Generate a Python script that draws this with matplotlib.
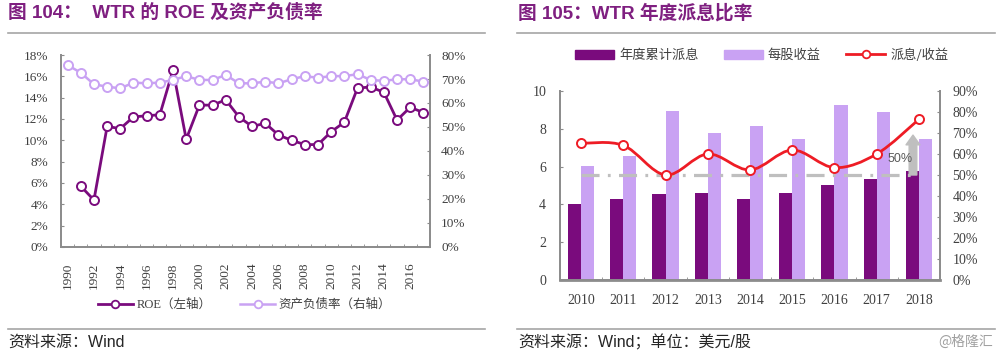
import numpy as np
import matplotlib
matplotlib.use('Agg')
import matplotlib.pyplot as plt
from matplotlib.lines import Line2D
from matplotlib.patches import Patch, PathPatch
from matplotlib.path import Path
from matplotlib.font_manager import FontProperties

plt.rcParams['lines.scale_dashes'] = False

# ── data: left chart (ROE on left axis, debt ratio on right axis) ──
years_a = list(range(1990, 2018))
roe = [np.nan, 5.7, 4.4, 11.3, 11.1, 12.2, 12.3, 12.4, 16.6, 10.1,
       13.3, 13.3, 13.8, 12.2, 11.3, 11.6, 10.5, 10.0, 9.6, 9.6,
       10.8, 11.7, 14.9, 15.0, 14.5, 11.9, 13.1, 12.6]
debt = [75.8, 72.6, 67.8, 66.8, 66.1, 68.5, 68.2, 68.5, 69.6, 71.2,
        69.6, 69.6, 71.7, 68.2, 68.2, 68.9, 68.2, 69.9, 71.2, 70.5,
        71.2, 71.2, 72.0, 69.6, 69.2, 69.9, 69.9, 68.9]

# ── data: right chart (dividend / EPS bars, payout ratio line) ──
years_b = list(range(2010, 2019))
div = [4.00, 4.27, 4.55, 4.60, 4.27, 4.60, 5.01, 5.36, 5.77]
eps = [6.05, 6.56, 8.96, 7.76, 8.15, 7.44, 9.24, 8.89, 7.44]
ratio = [65.1, 64.1, 50.0, 60.0, 52.4, 61.9, 53.5, 60.0, 76.5]

PURPLE = '#7a0b7d'
LILAC = '#c9a2f3'
RED = '#ee1c25'
AXIS = '#8c8c8c'
TXT = '#404040'
TITLE_C = '#7f1f80'

SERIF = ['Liberation Serif', 'Noto Sans CJK SC']
SANS = ['Liberation Sans', 'Noto Sans CJK SC']
CJK = ['Noto Sans CJK SC', 'DejaVu Sans']

fig = plt.figure(figsize=(10, 3.56), dpi=100)


def style_axes(ax, size):
    ax.spines['top'].set_visible(False)
    for s in ['left', 'right', 'bottom']:
        ax.spines[s].set_color(AXIS)
        ax.spines[s].set_linewidth(1.3)
    ax.tick_params(which='both', direction='in', color=AXIS, length=2.5,
                   labelsize=size, labelcolor=TXT)
    for lab in ax.get_xticklabels() + ax.get_yticklabels():
        lab.set_family(SERIF)


def smooth_path(xs, ys):
    pts = np.column_stack([xs, ys]).astype(float)
    n = len(pts)
    verts = [pts[0]]
    codes = [Path.MOVETO]
    for i in range(n - 1):
        p0 = pts[max(i - 1, 0)]; p1 = pts[i]; p2 = pts[i + 1]; p3 = pts[min(i + 2, n - 1)]
        verts += [p1 + (p2 - p0) / 6, p2 - (p3 - p1) / 6, p2]
        codes += [Path.CURVE4] * 3
    return Path(verts, codes)


# ── left chart ──
ax1 = fig.add_axes([0.061, 0.3062, 0.369, 0.5393])
ax1r = ax1.twinx()
x1 = np.arange(len(years_a))
ax1.plot(x1, roe, color=PURPLE, lw=2, marker='o', ms=6.5, mfc='white', mec=PURPLE, mew=1.4)
ax1r.plot(x1, debt, color=LILAC, lw=1.8, marker='o', ms=6.5, mfc='white', mec=LILAC, mew=1.4)
ax1.set_xlim(-0.5, len(years_a) - 0.5)
ax1.set_ylim(0, 18)
ax1r.set_ylim(0, 80)
ax1.set_yticks(range(0, 19, 2))
ax1.set_yticklabels([f'{v}%' for v in range(0, 19, 2)])
ax1r.set_yticks(range(0, 81, 10))
ax1r.set_yticklabels([f'{v}%' for v in range(0, 81, 10)])
ax1.set_xticks(x1[::2])
ax1.set_xticklabels([str(y) for y in years_a[::2]], rotation=90)
ax1.set_xticks(np.arange(0.5, len(years_a) - 1, 1), minor=True)
style_axes(ax1, 9.5)
style_axes(ax1r, 9.5)
ax1.tick_params(axis='x', which='major', length=0, pad=11, labelsize=9.5)
ax1.tick_params(axis='y', pad=9)
ax1r.tick_params(axis='y', pad=8)

# ── right chart ──
ax2 = fig.add_axes([0.560, 0.2135, 0.380, 0.5309])
ax2r = ax2.twinx()
x2 = np.arange(len(years_b))
w = 0.31
ax2.bar(x2 - w / 2, div, w, color=PURPLE)
ax2.bar(x2 + w / 2, eps, w, color=LILAC)
ax2.set_xlim(-0.5, len(years_b) - 0.5)
ax2.set_ylim(0, 10)
ax2.set_yticks(range(0, 11, 2))
ax2r.set_ylim(0, 90)
ax2r.set_yticks(range(0, 91, 10))
ax2r.set_yticklabels([f'{v}%' for v in range(0, 91, 10)])
ax2.set_xticks(x2)
ax2.set_xticklabels([str(y) for y in years_b])
ax2.set_xticks(np.arange(0.5, len(years_b) - 1, 1), minor=True)
style_axes(ax2, 10)
style_axes(ax2r, 10)
ax2.spines['bottom'].set_linewidth(2)
ax2.tick_params(axis='x', which='major', length=0, pad=10)
ax2.tick_params(axis='y', pad=10)
ax2r.tick_params(axis='y', pad=9)

ax2r.plot([0, len(years_b) - 1], [50, 50], color='#bfbfbf', lw=2.3,
          dashes=[13, 6, 2, 6], dash_capstyle='butt', zorder=2)
ax2r.annotate('', xy=(7.86, 69), xytext=(7.86, 50),
              arrowprops=dict(arrowstyle='simple,head_length=0.7,head_width=1.0,tail_width=0.55',
                              color='#bfbfbf', mutation_scale=10, shrinkA=0, shrinkB=0),
              zorder=3)
ax2r.text(7.55, 57.6, '50%', ha='center', va='center', fontsize=9, color='#595959',
          family=SANS)
ax2r.add_patch(PathPatch(smooth_path(x2, ratio), fill=False, edgecolor=RED, lw=2, zorder=4))
ax2r.plot(x2, ratio, ls='none', marker='o', ms=6.5, mfc='white', mec=RED, mew=1.4, zorder=5)

# ── legends ──
h1 = [Line2D([], [], color=PURPLE, lw=2, marker='o', ms=5.5, mfc='white', mec=PURPLE, mew=1.3),
      Line2D([], [], color=LILAC, lw=1.8, marker='o', ms=5.5, mfc='white', mec=LILAC, mew=1.3)]
fig.legend(h1, ['ROE（左轴）', '资产负债率（右轴）'], loc='center',
           bbox_to_anchor=(0.2445, 0.1433), ncol=2, frameon=False,
           prop=FontProperties(family=SERIF, size=9), labelcolor=TXT,
           handlelength=2.8, handletextpad=0.3, columnspacing=2.3)

h2 = [Patch(color=PURPLE), Patch(color=LILAC),
      Line2D([], [], color=RED, lw=2, marker='o', ms=5.5, mfc='white', mec=RED, mew=1.3)]
fig.legend(h2, ['年度累计派息', '每股收益', '派息/收益'], loc='center',
           bbox_to_anchor=(0.7615, 0.8455), ncol=3, frameon=False,
           prop=FontProperties(family=CJK, size=9.5), labelcolor=TXT,
           handlelength=3.0, handleheight=0.7, handletextpad=0.35, columnspacing=1.9)

# ── titles, rules, sources ──
for x0, x1_ in [(0.008, 0.485), (0.517, 0.995)]:
    for yy in [1 - 33 / 356, 1 - 329 / 356]:
        fig.add_artist(Line2D([x0, x1_], [yy, yy], transform=fig.transFigure,
                              color='#a6a6a6', lw=1.2))

fig.text(0.008, 1 - 13 / 356, '图 104：  WTR 的 ROE 及资产负债率', fontsize=13.5,
         weight='bold', color=TITLE_C, family=SANS, va='center')
fig.text(0.518, 1 - 13 / 356, '图 105：WTR 年度派息比率', fontsize=13.5,
         weight='bold', color=TITLE_C, family=SANS, va='center')

fig.text(0.008, 1 - 342 / 356, '资料来源：Wind', fontsize=11.5, color='#262626',
         family=SANS, va='center')
fig.text(0.518, 1 - 342 / 356, '资料来源：Wind；单位：美元/股', fontsize=11.5,
         color='#262626', family=SANS, va='center')
fig.text(0.993, 1 - 342 / 356, '@格隆汇', fontsize=10, color='#a0a0a0',
         family=CJK, va='center', ha='right')

fig.savefig('out.png', dpi=100)
